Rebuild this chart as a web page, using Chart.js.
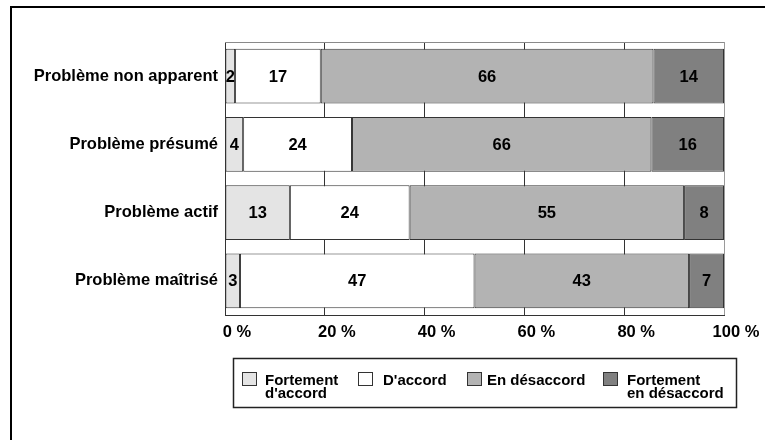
<!DOCTYPE html>
<html lang="fr">
<head>
<meta charset="utf-8">
<script src="https://cdn.jsdelivr.net/npm/chart.js@4/dist/chart.umd.min.js"></script>
<style>
  html, body { margin: 0; padding: 0; background: #ffffff; }
  #wrap { width: 765px; height: 440px; }
</style>
</head>
<body>
<div id="wrap"><canvas id="c" width="765" height="440"></canvas></div>
<script>
// Catégories (de haut en bas)
const categories = ['Problème non apparent', 'Problème présumé', 'Problème actif', 'Problème maîtrisé'];

// Réponses, en pourcentage
const fortementDAccord = [2, 4, 13, 3];
const dAccord = [17, 24, 24, 47];
const enDesaccord = [66, 66, 55, 43];
const fortementEnDesaccord = [14, 16, 8, 7];

// Libellés de la légende (une ligne par élément)
const seriesLabels = [
  ['Fortement', "d'accord"],
  ["D'accord"],
  ['En désaccord'],
  ['Fortement', 'en désaccord']
];
const seriesColors = ['#e4e4e4', '#ffffff', '#b3b3b3', '#808080'];

// Graduations de l'axe horizontal
const xTicks = [0, 20, 40, 60, 80, 100];

const series = [fortementDAccord, dAccord, enDesaccord, fortementEnDesaccord];
const rowTotals = categories.map((_, i) => series.reduce((s, arr) => s + arr[i], 0));
const share = arr => arr.map((v, i) => v / rowTotals[i] * 100);

const FONT = '"Liberation Sans", Arial, Helvetica, sans-serif';
const EDGE = '#333333';

// Cadre extérieur (bords gauche et haut)
const framePlugin = {
  id: 'frame',
  beforeDraw(chart) {
    const ctx = chart.ctx;
    ctx.save();
    ctx.fillStyle = '#000000';
    ctx.fillRect(10, 6, 2, chart.height - 6);
    ctx.fillRect(10, 6, chart.width - 10, 2);
    ctx.restore();
  },
  beforeDatasetsDraw(chart) {
    const { ctx, chartArea: a } = chart;
    ctx.save();
    ctx.strokeStyle = '#8a8a8a';
    ctx.lineWidth = 1;
    ctx.beginPath();
    ctx.moveTo(a.left, a.top + 0.5);
    ctx.lineTo(a.right, a.top + 0.5);
    ctx.stroke();
    ctx.restore();
  }
};

// Valeurs inscrites au centre de chaque segment
const valueLabels = {
  id: 'valueLabels',
  afterDatasetsDraw(chart) {
    const ctx = chart.ctx;
    ctx.save();
    ctx.font = 'bold 16.5px ' + FONT;
    ctx.fillStyle = '#000000';
    ctx.textAlign = 'center';
    ctx.textBaseline = 'middle';
    chart.data.datasets.forEach((ds, di) => {
      chart.getDatasetMeta(di).data.forEach((bar, i) => {
        const x = (bar.x + bar.base) / 2;
        ctx.fillText(String(ds.rawValues[i]), x, bar.y + 1);
      });
    });
    ctx.restore();
  }
};

// Légende encadrée sous le graphique
const boxedLegend = {
  id: 'boxedLegend',
  afterDraw(chart) {
    const ctx = chart.ctx;
    ctx.save();
    ctx.strokeStyle = '#222222';
    ctx.lineWidth = 1.5;
    ctx.strokeRect(233.5, 358.5, 503, 49);
    const boxX = [242, 358, 467, 603];
    const textX = [265, 383, 487, 627];
    ctx.font = 'bold 15px ' + FONT;
    ctx.textAlign = 'left';
    ctx.textBaseline = 'alphabetic';
    chart.data.datasets.forEach((ds, i) => {
      ctx.fillStyle = ds.backgroundColor;
      ctx.fillRect(boxX[i], 372, 14, 13);
      ctx.lineWidth = 1;
      ctx.strokeStyle = EDGE;
      ctx.strokeRect(boxX[i] + 0.5, 372.5, 14, 13);
      ctx.fillStyle = '#000000';
      seriesLabels[i].forEach((line, k) => {
        ctx.fillText(line, textX[i], 385 + k * 12.5);
      });
    });
    ctx.restore();
  }
};

new Chart(document.getElementById('c'), {
  type: 'bar',
  data: {
    labels: categories,
    datasets: series.map((arr, i) => ({
      label: seriesLabels[i].join(' '),
      data: share(arr),
      rawValues: arr,
      backgroundColor: seriesColors[i],
      borderColor: EDGE,
      borderWidth: 1,
      borderSkipped: false,
      barPercentage: 0.8,
      categoryPercentage: 1.0
    }))
  },
  options: {
    indexAxis: 'y',
    responsive: false,
    animation: false,
    events: [],
    layout: { padding: { left: 0, top: 42, right: 41, bottom: 95 } },
    plugins: {
      legend: { display: false },
      tooltip: { enabled: false },
      title: { display: false }
    },
    scales: {
      x: {
        stacked: true,
        min: 0,
        max: 100,
        afterBuildTicks(scale) { scale.ticks = xTicks.map(v => ({ value: v })); },
        afterFit(scale) { scale.height = 30; },
        ticks: {
          callback: v => v + ' %',
          color: '#000000',
          font: { family: FONT, size: 16.5, weight: 'bold' },
          padding: 8,
          labelOffset: 12,
          maxRotation: 0,
          autoSkip: false
        },
        grid: {
          drawTicks: false,
          color: ctx => (ctx.tick && ctx.tick.value === 100) ? '#9a9a9a' : EDGE,
          lineWidth: 1
        },
        border: { color: EDGE, width: 1 }
      },
      y: {
        stacked: true,
        afterFit(scale) { scale.width = 225; },
        ticks: {
          color: '#000000',
          font: { family: FONT, size: 16.5, weight: 'bold' },
          padding: 7
        },
        grid: { display: false, drawTicks: false },
        border: { color: EDGE, width: 1 }
      }
    }
  },
  plugins: [framePlugin, valueLabels, boxedLegend]
});
</script>
</body>
</html>
